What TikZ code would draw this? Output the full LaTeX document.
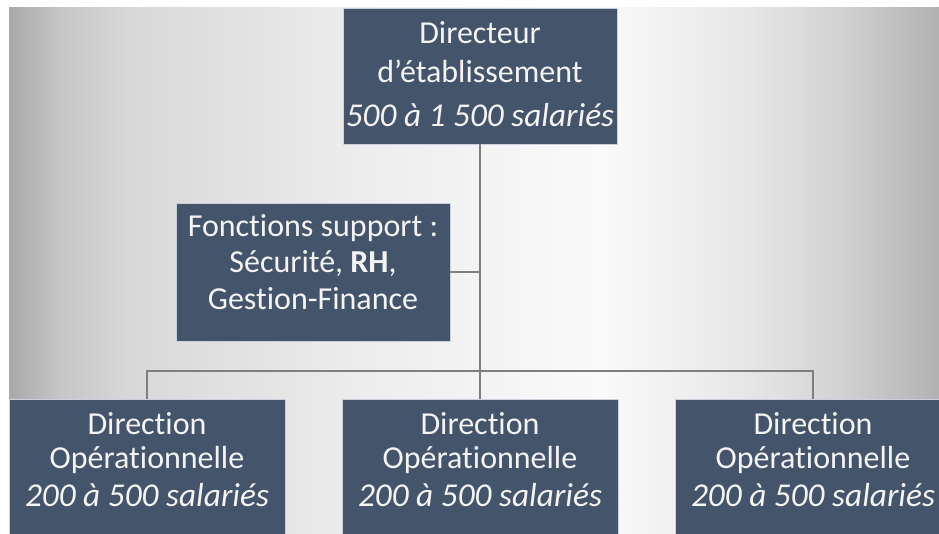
\documentclass[tikz,border=0pt]{standalone}
\usepackage{fontspec}
\setmainfont{Carlito}[Ligatures=NoCommon]
\definecolor{boxfill}{HTML}{44546A}
\definecolor{boxedge}{HTML}{C9D1DC}
\definecolor{wire}{HTML}{7F7F7F}
\definecolor{txt}{HTML}{F4F4F4}
\newcommand{\headcount}[1]{{\fontsize{25}{29}\selectfont\itshape #1}}
\begin{document}
\begin{tikzpicture}[x=0.75pt,y=-0.75pt,
  orgbox/.style={rectangle, fill=boxfill, draw=boxedge, line width=0.6pt, inner sep=0pt},
  boxtext/.style={text=txt, align=center, inner sep=0pt,
    font=\fontsize{24}{29}\selectfont},
  conn/.style={draw=wire, line width=1.3pt}]
\useasboundingbox (0,0) rectangle (939,533);
% page and backdrop
\fill[white] (0,0) rectangle (939,533);
\path[left color={rgb,255:red,169;green,169;blue,169}, right color={rgb,255:red,198;green,198;blue,198}] (9,7) rectangle (60.5,533);
\path[left color={rgb,255:red,198;green,198;blue,198}, right color={rgb,255:red,216;green,216;blue,216}] (60,7) rectangle (130.5,533);
\path[left color={rgb,255:red,216;green,216;blue,216}, right color={rgb,255:red,236;green,236;blue,236}] (130,7) rectangle (350.5,533);
\path[left color={rgb,255:red,236;green,236;blue,236}, right color={rgb,255:red,250;green,250;blue,250}] (350,7) rectangle (600.5,533);
\path[left color={rgb,255:red,250;green,250;blue,250}, right color={rgb,255:red,230;green,230;blue,230}] (600,7) rectangle (750.5,533);
\path[left color={rgb,255:red,230;green,230;blue,230}, right color={rgb,255:red,210;green,210;blue,210}] (750,7) rectangle (840.5,533);
\path[left color={rgb,255:red,210;green,210;blue,210}, right color={rgb,255:red,178;green,178;blue,178}] (840,7) rectangle (939,533);

% boxes
\node[orgbox, minimum width=205.5pt, minimum height=102pt] (dir) at (480,76) {};
\node[orgbox, minimum width=205.5pt, minimum height=103.5pt] (sup) at (313,272) {};
\node[orgbox, minimum width=207pt, minimum height=103pt, anchor=north] (op1) at (147,399) {};
\node[orgbox, minimum width=207pt, minimum height=103pt, anchor=north] (op2) at (480,399) {};
\node[orgbox, minimum width=207pt, minimum height=103pt, anchor=north] (op3) at (813,399) {};

% labels
\node[boxtext] (dir-t) at (480,74) {Directeur\\d’établissement\\[4pt]\headcount{500 à 1 500 salariés}};
\node[boxtext, font=\fontsize{24}{27.5}\selectfont] (sup-t) at (313,262) {Fonctions support :\\Sécurité, \textbf{RH},\\Gestion-Finance};
\node[boxtext] (op1-t) at (147,460) {Direction\\[-4pt]Opérationnelle\\\headcount{200 à 500 salariés}};
\node[boxtext] (op2-t) at (480,460) {Direction\\[-4pt]Opérationnelle\\\headcount{200 à 500 salariés}};
\node[boxtext] (op3-t) at (813,460) {Direction\\[-4pt]Opérationnelle\\\headcount{200 à 500 salariés}};

% connectors
\coordinate (bus) at (480,371);
\draw[conn] (dir.south) -- (op2.north);
\draw[conn] (sup.east) -- (sup.east -| dir.south);
\draw[conn] (op1.north) |- (bus) -| (op3.north);
\end{tikzpicture}
\end{document}
